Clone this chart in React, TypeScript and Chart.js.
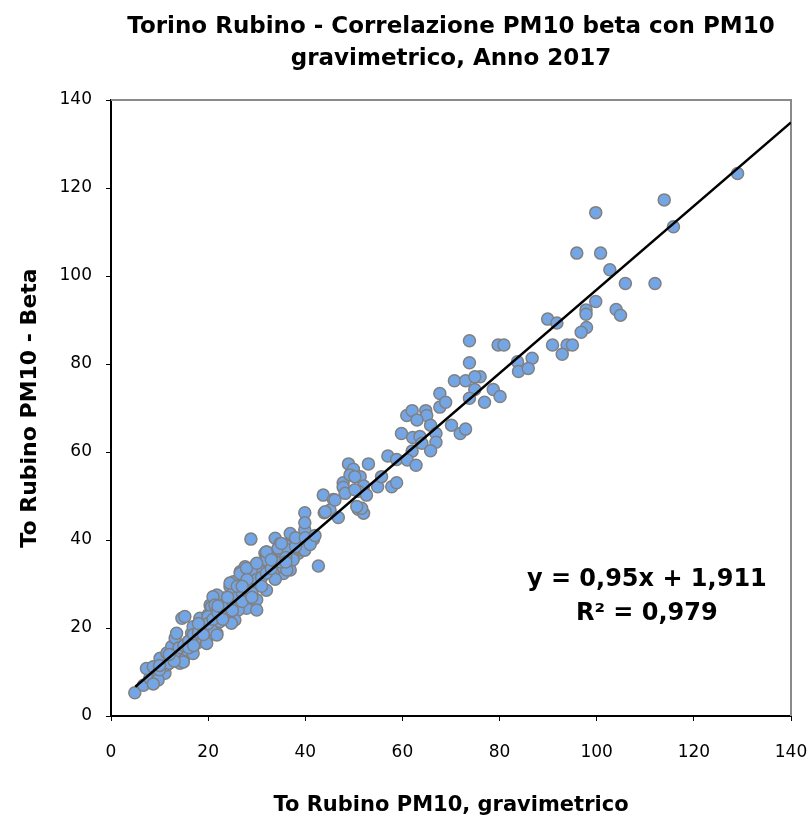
import React, { useEffect, useRef } from "react";
import { Chart, registerables } from "chart.js";

Chart.register(...registerables);

const titleLines = ["Torino Rubino - Correlazione PM10 beta con PM10", "gravimetrico, Anno 2017"];
const xAxisTitle = "To Rubino PM10, gravimetrico";
const yAxisTitle = "To Rubino PM10 - Beta";
const equationLines = ["y = 0,95x + 1,911", "R² = 0,979"];
const trendSlope = 0.95;
const trendIntercept = 1.911;
const trendXStart = 5;
const trendXEnd = 140;
const axisMin = 0;
const axisMax = 140;
const tickStep = 20;

// PM10 gravimetric (x) values
const gravimetric = [
  129, 113.9, 99.8, 115.8, 95.9, 100.8, 102.7, 105.9, 112, 99.8, 97.8, 97.8, 104, 104.9, 89.9, 91.8, 97.9, 96.8,
  79.7, 80.9, 90.9, 93.9, 95, 92.9, 86.7, 83.7, 83.9, 85.9, 78.7, 80.1, 76, 73.8, 73.8, 70.7, 73, 74.9, 74.9, 73.8,
  76.9, 67.7, 67.7, 68.9,
  60.9, 62, 64.8, 65, 63, 65.8, 59.8, 62.1, 63.6, 64, 66.9, 66.9, 65.8, 62, 70.1, 71.9, 73, 57, 58.8, 61, 62.8,
  48.9, 49.9, 53, 51.3, 47.8, 47.8, 52, 50.9, 54.9, 55.7, 57.8, 58.8, 43.7, 45.8, 45.1, 43.9, 46.8, 50.9, 52,
  39.9, 39.9, 41.7, 49.2, 50.2, 48.2, 50.2, 52.6, 51.6, 50.6, 46.1, 44.1, 39.9, 42.7,
  4.9, 6.7, 8, 7.3, 8.7, 10.1, 9.7, 11.1, 11.5, 12.1, 11.5, 12.5, 13.2, 13.5, 14.6, 14.6, 14.9, 14.2, 15.6, 15.9,
  16.6, 16.9, 18.3, 19, 18.3, 17.6, 19.7, 20, 20.4, 21.8, 22.4, 21.8, 20.7, 23.1, 23.8, 22.4,
  28.8, 33.8, 34.8, 36.9, 36.2, 37.9, 38.6, 35.5, 34.1, 31.7, 32, 33.8, 35.5, 30, 29.6, 31.3, 30.7, 27.9, 26.6,
  27.6, 25.2, 24.5, 25.2, 27.9, 26.2, 24.8, 23.1, 21.8, 20.7, 23.1, 22.4, 20, 15.2, 24.5, 25.5, 32,
  39.6, 37.9, 35.8, 34.4, 36.5, 39.6, 37.5, 34.8, 32, 32, 33.8, 35.1, 36.9, 33.4,
  9.7, 8.7, 14.9, 16.9, 19.7, 21.8, 24.8, 30, 33.8, 36.2, 37.5, 39.9, 30, 32, 28.6,
  21, 21.4, 24.5, 26.6, 27.9, 30, 32, 35.1,
  10, 12, 13, 14, 15, 16, 17, 18, 19, 20, 21, 22, 23, 24, 25, 26, 27, 28, 29, 30, 31, 32, 33, 34, 35, 36, 38,
  25, 27, 29, 26, 28, 22, 18, 16, 13, 12, 10, 17, 19, 23, 24, 27, 29, 31, 33, 36, 38, 40, 41, 42,
];

// PM10 beta (y) values
const beta = [
  123.3, 117.3, 114.4, 111.2, 105.2, 105.2, 101.4, 98.3, 98.3, 94.2, 92.3, 91.3, 92.4, 91.1, 90.2, 89.3, 88.3, 87.2,
  84.3, 84.3, 84.3, 84.3, 84.3, 82.2, 81.3, 80.5, 78.3, 79, 74.2, 72.6, 77.1, 85.3, 80.3, 76.2, 76.2, 77.1, 74.2, 72.2,
  71.3, 73.3, 70.2, 71.3,
  68.3, 69.4, 69.4, 68.3, 67.3, 66.1, 64.2, 63.3, 63.5, 62, 64.2, 62.2, 60.3, 60.2, 66.1, 64.2, 65.2, 59.1, 58.3, 58.2, 57,
  57.3, 56.1, 57.3, 54.4, 53, 52, 52.3, 51.1, 52.1, 54.4, 52.1, 53, 50.2, 49.2, 46.8, 46.2, 45.1, 47, 46.1,
  46.2, 42.3, 40.2, 54.8, 54.4, 50.6, 51.4, 50.2, 47.2, 47.6, 49.1, 46.4, 43.9, 34.1,
  5.3, 7, 8.6, 10.8, 11.2, 13.1, 8.9, 9.7, 11.6, 12.7, 14.3, 15.8, 17.7, 18.8, 22.2, 14.3, 12.7, 12, 15, 16.9,
  18.8, 20.3, 22.2, 20.7, 18, 16.5, 17.3, 23, 25.2, 24.1, 21.4, 18.8, 19.5, 25.6, 23.3, 26.4,
  40.2, 40.4, 39.2, 41.5, 38.9, 40, 37, 36.2, 37, 37, 34.7, 31.3, 32.4, 34.3, 32.4, 32.8, 29.8, 30.5, 32.8,
  33.9, 30.5, 29.4, 28.3, 24.5, 24.1, 25.2, 26.8, 27.5, 24.8, 24.1, 22.6, 22.6, 22.6, 22.6, 21.8, 36.2,
  39.6, 39.4, 38.9, 38.1, 37.7, 37.7, 35.8, 35.5, 37.3, 35.5, 34.3, 33.9, 33.2, 32.4,
  8.2, 7.3, 12.3, 14.2, 16.5, 18.4, 21.1, 26.4, 31.1, 33.2, 35.5, 37.7, 24.1, 28.6, 26.8,
  27.1, 25.2, 30.2, 32.4, 33.6, 34.7, 37.3, 39.2,
  10.5, 12, 14, 15.5, 16, 17, 18.5, 19, 20, 21, 22, 23.5, 24.5, 25, 26, 27, 28, 29, 30, 31, 31.5, 32.5, 33.5, 35, 35, 36, 38.5,
  24, 26, 28, 29.5, 31, 25, 21, 15.5, 12.5, 14, 11.5, 16, 18.5, 22, 27, 29.5, 27, 29.5, 35.5, 35, 40.5, 40.5, 39, 41,
];

const FONT = "'DejaVu Sans', sans-serif";

const framePlugin = {
  id: "frameAndEquation",
  beforeDatasetsDraw(chart: any) {
    const { ctx, chartArea: a } = chart;
    ctx.save();
    ctx.strokeStyle = "#8a8a8a";
    ctx.lineWidth = 2;
    ctx.beginPath();
    ctx.moveTo(a.left, a.top);
    ctx.lineTo(a.right, a.top);
    ctx.lineTo(a.right, a.bottom);
    ctx.stroke();
    ctx.restore();
  },
  afterDraw(chart: any) {
    const { ctx, chartArea: a } = chart;
    const cx = (a.left + a.right) / 2;
    ctx.save();
    ctx.fillStyle = "#000";
    ctx.textAlign = "center";
    ctx.textBaseline = "middle";
    // chart title, centred over the plot area
    ctx.font = `bold 23px ${FONT}`;
    titleLines.forEach((line, i) => ctx.fillText(line, cx, a.top * 0.27 + i * 32));
    // regression equation
    ctx.font = `bold 24px ${FONT}`;
    const ex = a.left + (a.right - a.left) * 0.788;
    const ey = a.top + (a.bottom - a.top) * 0.779;
    equationLines.forEach((line, i) => ctx.fillText(line, ex, ey + i * 34));
    ctx.restore();
  },
};

export default function App() {
  const ref = useRef<HTMLCanvasElement | null>(null);

  useEffect(() => {
    if (!ref.current) return;
    const points = gravimetric.map((x, i) => ({ x, y: beta[i] }));
    const trend = [trendXStart, trendXEnd].map((x) => ({ x, y: trendSlope * x + trendIntercept }));
    const chart = new Chart(ref.current, {
      type: "scatter",
      data: {
        datasets: [
          {
            type: "line",
            data: trend,
            borderColor: "#000",
            borderWidth: 2.5,
            pointRadius: 0,
            order: 0,
          } as any,
          {
            data: points,
            backgroundColor: "#74a6e6",
            borderColor: "#808080",
            borderWidth: 1.5,
            pointRadius: 6,
            order: 1,
          },
        ],
      },
      options: {
        responsive: false,
        animation: false,
        devicePixelRatio: 1,
        layout: { padding: { left: 0, right: 21, top: 100, bottom: 0 } },
        plugins: {
          legend: { display: false },
          tooltip: { enabled: false },
          title: { display: false },
        },
        scales: {
          x: {
            type: "linear",
            min: axisMin,
            max: axisMax,
            afterFit: (s: any) => {
              s.height = 102;
              s.paddingRight = 0;
              s.paddingLeft = 0;
            },
            border: { color: "#000", width: 2 },
            grid: { drawOnChartArea: false, drawTicks: true, tickLength: 5, tickColor: "#000" },
            ticks: { stepSize: tickStep, color: "#000", padding: 21, font: { family: FONT, size: 17 }, maxRotation: 0 },
            title: {
              display: true,
              text: xAxisTitle,
              color: "#000",
              font: { family: FONT, size: 21, weight: "bold", lineHeight: 1.2 },
              padding: { top: 0, bottom: 0 },
            },
          },
          y: {
            type: "linear",
            min: axisMin,
            max: axisMax,
            afterFit: (s: any) => {
              s.width = 111;
              s.paddingTop = 0;
              s.paddingBottom = 0;
            },
            border: { color: "#000", width: 2 },
            grid: { drawOnChartArea: false, drawTicks: true, tickLength: 5, tickColor: "#000" },
            ticks: { stepSize: tickStep, color: "#000", padding: 14, font: { family: FONT, size: 17 } },
            title: {
              display: true,
              text: yAxisTitle,
              color: "#000",
              font: { family: FONT, size: 22, weight: "bold", lineHeight: 1.2 },
              padding: { top: 17, bottom: 0 },
            },
          },
        },
      },
      plugins: [framePlugin],
    });
    return () => chart.destroy();
  }, []);

  return (
    <div style={{ position: "absolute", left: 0, top: 0, width: 812, height: 818, background: "#fff" }}>
      <canvas ref={ref} width={812} height={818} />
    </div>
  );
}
